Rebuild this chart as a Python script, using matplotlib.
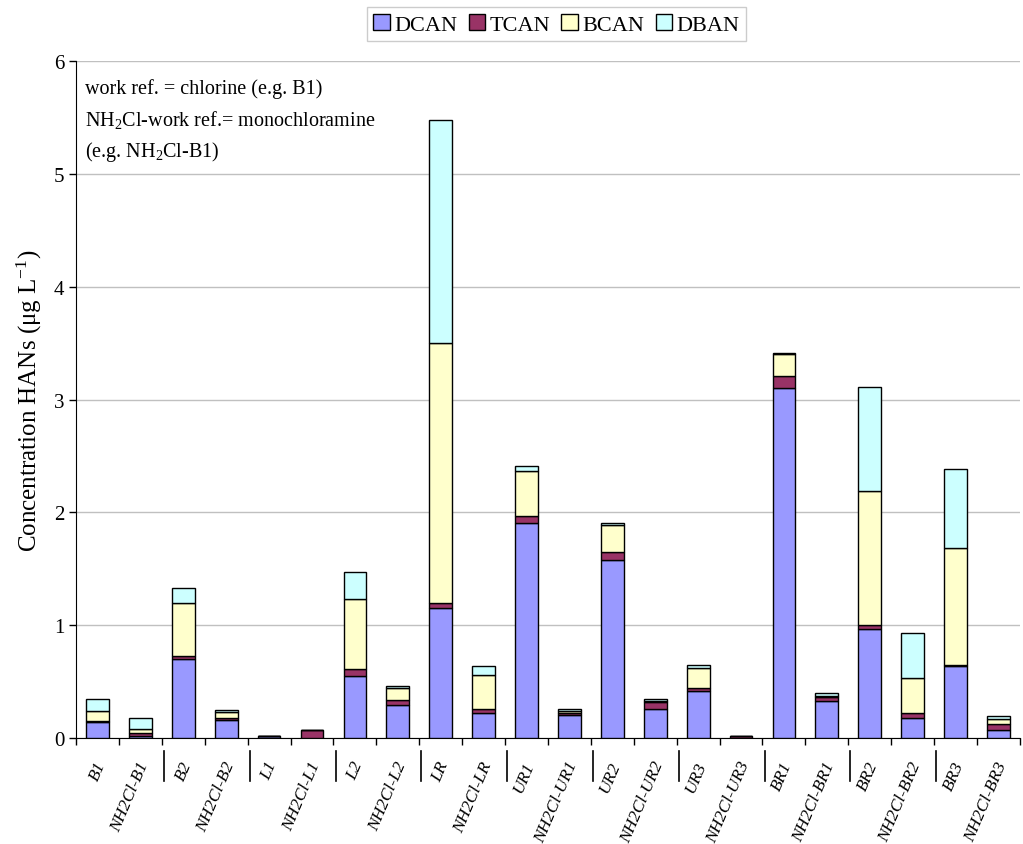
import numpy as np
import matplotlib
matplotlib.use("Agg")
import matplotlib.pyplot as plt
import matplotlib.transforms as mtransforms

plt.rcParams['font.family'] = ['Liberation Serif', 'DejaVu Serif']
plt.rcParams['mathtext.default'] = 'regular'

# sample labels (chlorine / monochloramine pairs)
amostras = ['B1', 'NH2Cl-B1', 'B2', 'NH2Cl-B2', 'L1', 'NH2Cl-L1',
            'L2', 'NH2Cl-L2', 'LR', 'NH2Cl-LR', 'UR1', 'NH2Cl-UR1',
            'UR2', 'NH2Cl-UR2', 'UR3', 'NH2Cl-UR3', 'BR1', 'NH2Cl-BR1',
            'BR2', 'NH2Cl-BR2', 'BR3', 'NH2Cl-BR3']

# concentrations (ug/L) per haloacetonitrile
dcan = [0.14, 0.02, 0.70, 0.16, 0.02, 0.00, 0.55, 0.29, 1.15, 0.22, 1.91, 0.20,
        1.58, 0.26, 0.42, 0.00, 3.10, 0.33, 0.97, 0.18, 0.635, 0.07]
tcan = [0.01, 0.025, 0.03, 0.02, 0.00, 0.07, 0.06, 0.05, 0.045, 0.04, 0.06, 0.02,
        0.07, 0.06, 0.02, 0.02, 0.11, 0.03, 0.03, 0.045, 0.015, 0.05]
bcan = [0.09, 0.035, 0.47, 0.05, 0.00, 0.00, 0.62, 0.10, 2.31, 0.30, 0.40, 0.02,
        0.24, 0.01, 0.18, 0.00, 0.19, 0.015, 1.19, 0.31, 1.03, 0.05]
dban = [0.11, 0.10, 0.13, 0.02, 0.00, 0.00, 0.245, 0.02, 1.97, 0.08, 0.045, 0.02,
        0.02, 0.02, 0.03, 0.00, 0.015, 0.02, 0.92, 0.40, 0.70, 0.025]

series = [('DCAN', dcan, '#9999FF'), ('TCAN', tcan, '#993366'),
          ('BCAN', bcan, '#FFFFCC'), ('DBAN', dban, '#CCFFFF')]

fig = plt.figure(figsize=(10.23, 8.45), dpi=100)
ax = fig.add_axes([0.0743, 0.1254, 0.9227, 0.8012])

x = np.arange(len(amostras))
base = np.zeros(len(amostras))
for nome, vals, cor in series:
    vals = np.array(vals)
    ax.bar(x, vals, width=0.53, bottom=base, color=cor, edgecolor='black',
           linewidth=1.0, label=nome, zorder=3)
    base += vals

ax.set_xlim(-0.5, len(amostras) - 0.5)
ax.set_ylim(0, 6)
ax.set_yticks(range(7))
ax.yaxis.grid(True, color='#c0c0c0', linewidth=1.0, zorder=0)
ax.spines['top'].set_visible(False)
ax.spines['right'].set_visible(False)
ax.tick_params(axis='y', direction='out', length=5, labelsize=15, width=1)

# category ticks on boundaries, labels on centres
ax.set_xticks(x)
ax.set_xticklabels(amostras, rotation=67, fontsize=12.5, style='italic',
                   ha='right', va='center', rotation_mode='anchor')
ax.tick_params(axis='x', which='major', length=0, pad=17)
desloc = mtransforms.ScaledTranslation(4 / 100, 0, fig.dpi_scale_trans)
for lbl in ax.get_xticklabels():
    lbl.set_transform(lbl.get_transform() + desloc)
ax.set_xticks(np.arange(-0.5, len(amostras)), minor=True)
ax.tick_params(axis='x', which='minor', direction='out', length=5, width=1)

# separators between sample pairs
trans = ax.get_xaxis_transform()
for b in range(2, len(amostras), 2):
    ax.plot([b - 0.45, b - 0.45], [-0.019, -0.0635], color='black',
            linewidth=1.2, transform=trans, clip_on=False)

ax.set_ylabel('Concentration HANs (μg L$^{-1}$)', fontsize=18, labelpad=7)

ax.text(0.01, 0.975, 'work ref. = chlorine (e.g. B1)', transform=ax.transAxes,
        fontsize=14.5, va='top')
ax.text(0.01, 0.93, 'NH$_2$Cl-work ref.= monochloramine', transform=ax.transAxes,
        fontsize=14.5, va='top')
ax.text(0.01, 0.885, '(e.g. NH$_2$Cl-B1)', transform=ax.transAxes,
        fontsize=14.5, va='top')

fig.legend(loc='center', bbox_to_anchor=(0.544, 0.97), ncol=4, fontsize=16,
           frameon=True, fancybox=False, edgecolor='#c0c0c0',
           handlelength=0.75, handleheight=0.75, handletextpad=0.2,
           columnspacing=0.5, borderpad=0.3)

fig.savefig('out.png', dpi=100)
